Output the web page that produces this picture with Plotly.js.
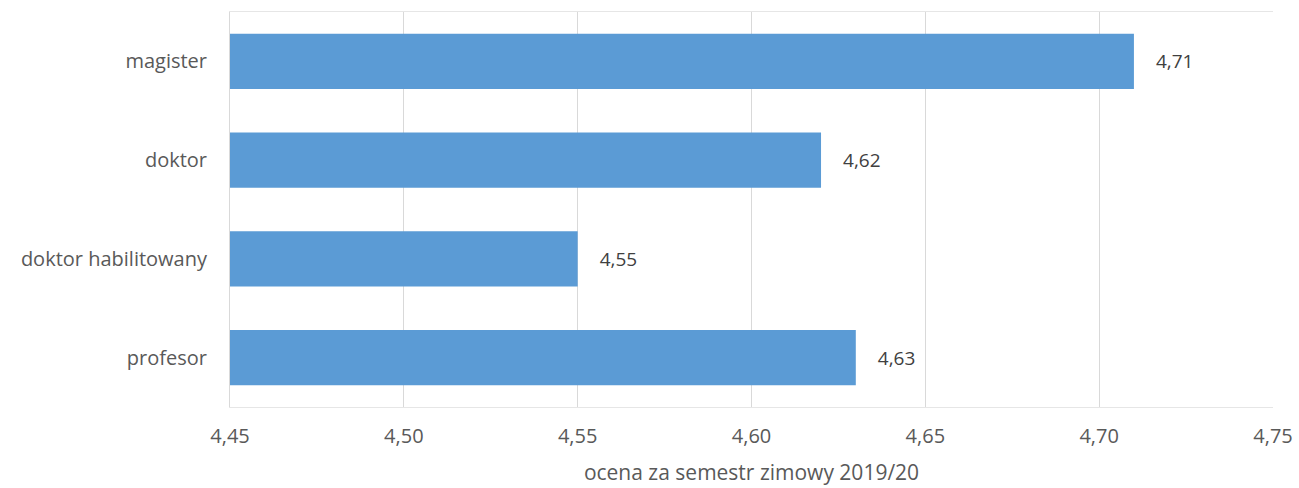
<!DOCTYPE html>
<html>
<head>
<meta charset="utf-8">
<script src="https://cdn.plot.ly/plotly-3.0.1.min.js"></script>
<style>html,body{margin:0;padding:0;background:#fff;}#chart{width:1299px;height:488px;}</style>
</head>
<body>
<div id="chart"></div>
<script>
const categories = ["profesor", "doktor habilitowany", "doktor", "magister"];
const values = [4.63, 4.55, 4.62, 4.71];
const xTicks = [4.45, 4.50, 4.55, 4.60, 4.65, 4.70, 4.75];
const xTitle = "ocena za semestr zimowy 2019/20";

const fmt = v => v.toFixed(2).replace(".", ",");

const trace = {
  type: "bar",
  orientation: "h",
  y: categories,
  x: values,
  marker: {color: "#5B9BD5"},
  text: values.map(v => "\u2002\u2002" + fmt(v)),
  textposition: "outside",
  cliponaxis: true,
  textfont: {family: "Open Sans, sans-serif", size: 19, color: "#404040"},
  hoverinfo: "none"
};

const layout = {
  width: 1299, height: 488,
  margin: {l: 230, r: 26, t: 12, b: 81},
  paper_bgcolor: "#fff", plot_bgcolor: "#fff",
  showlegend: false,
  bargap: 0.44,
  font: {family: "Open Sans, sans-serif", color: "#595959", size: 20},
  xaxis: {
    range: [4.45, 4.75],
    tickvals: xTicks,
    ticktext: xTicks.map(fmt),
    showgrid: true, gridcolor: "#D9D9D9", gridwidth: 1,
    zeroline: false,
    showline: true, linecolor: "#E6E6E6", mirror: true,
    ticks: "", ticklen: 0, ticklabelstandoff: 11,
    tickfont: {size: 20, color: "#595959"},
    title: {text: xTitle, font: {size: 21, color: "#595959"}, standoff: 17},
    automargin: false
  },
  yaxis: {
    showgrid: false, zeroline: false,
    showline: true, linecolor: "#D9D9D9", mirror: false,
    ticks: "", ticklabelstandoff: 18,
    tickfont: {size: 20, color: "#595959"},
    automargin: false
  }
};
Plotly.newPlot("chart", [trace], layout, {displayModeBar: false, staticPlot: true});
</script>
</body>
</html>
